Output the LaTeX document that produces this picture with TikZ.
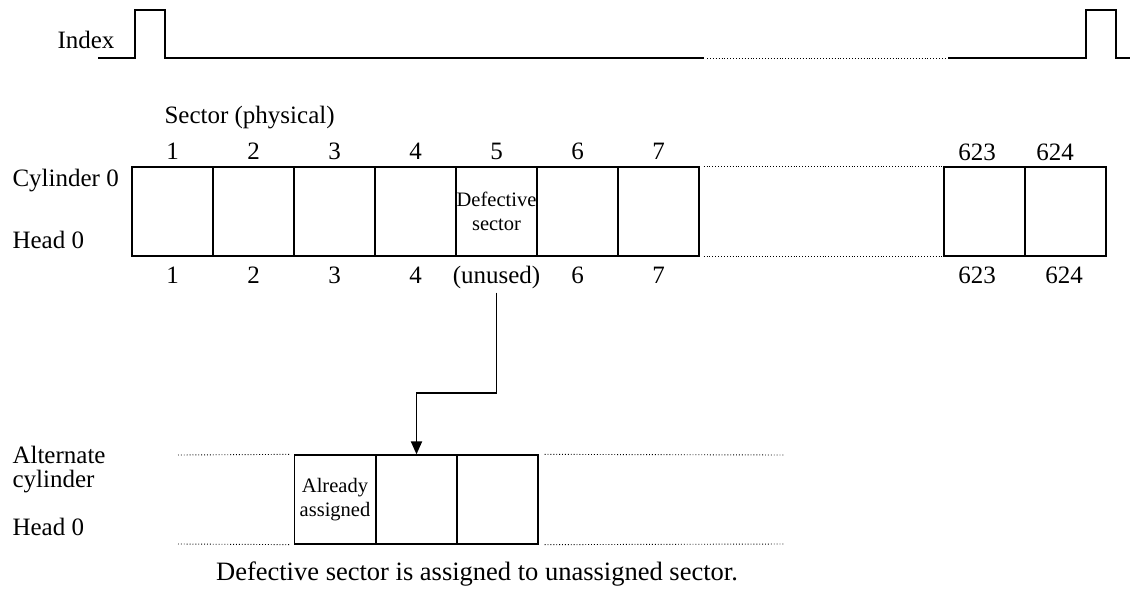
\documentclass[tikz,border=0pt]{standalone}
\usepackage{fontspec}
\setmainfont{Liberation Serif}
\usetikzlibrary{arrows.meta}

\begin{document}
\begin{tikzpicture}[
  x=1pt, y=-1pt,
  font=\fontsize{25}{24}\selectfont,
  sector/.style={draw, line width=1.3pt, minimum width=81pt, minimum height=89pt, inner sep=0pt, align=center, font=\fontsize{20.5}{23.5}\selectfont},
  lbl/.style={anchor=base},
  side/.style={anchor=base west},
  dotline/.style={line width=0.9pt, dotted},
  wave/.style={line width=1.4pt},
  arrow/.style={-{Triangle[length=13pt,width=11pt]}, line width=1.9pt}
]
\useasboundingbox (0,0) rectangle (1130,589);

% index pulses
\node[side] (index) at (54,48) {Index};
\draw[wave] (98,58) -- (135,58) -- (135,10) -- (165,10) -- (165,58) -- (704,58);
\draw[dotline] (707,58) -- (946,58);
\draw[wave] (948,58) -- (1086,58) -- (1086,10) -- (1116,10) -- (1116,58) -- (1130,58);

% cylinder 0 / head 0
\node[side] (phys) at (161,123) {Sector (physical)};
\node[side] (cyl) at (9,186) {Cylinder 0};
\node[side] (head) at (9,248) {Head 0};

\foreach \i in {1,2,3,4,6,7}
  \node[sector] (s\i) at ({132+81*\i-40.5},211.5) {};
\node[sector] (s5) at (496.5,211.5) {Defective\\sector};
\node[sector] (s623) at (984.5,211.5) {};
\node[sector] (s624) at (1065.5,211.5) {};

\foreach \i in {1,...,7}
  \node[lbl] (up\i) at ([yshift=7pt]s\i.north) {\i};
\foreach \i in {1,2,3,4,6,7}
  \node[lbl] (dn\i) at ([yshift=-27pt]s\i.south) {\i};
\node[lbl] (unused) at ([yshift=-27pt]s5.south) {(unused)};
\node[lbl] (up623) at (977,160) {623};
\node[lbl] (up624) at (1055,160) {624};
\node[lbl] (dn623) at (977,283) {623};
\node[lbl] (dn624) at (1064,283) {624};

\draw[dotline] ([xshift=4pt]s7.north east) -- (s623.north west);
\draw[dotline] ([xshift=4pt]s7.south east) -- (s623.south west);

% alternate cylinder
\node[side] (alt) at (9,463) {Alternate};
\node[side] (altb) at (9,487) {cylinder};
\node[side] (head2) at (9,535) {Head 0};

\node[sector] (a1) at (335,499.5) {Already\\assigned};
\node[sector] (a2) at (416.5,499.5) {};
\node[sector] (a3) at (497.5,499.5) {};

\coordinate (altLt) at (178,455);
\coordinate (altLb) at (178,544);
\coordinate (altRt) at (785,455);
\coordinate (altRb) at (785,544);
\draw[dotline] (altLt) -- ([xshift=-4pt]a1.north west);
\draw[dotline] (altLb) -- ([xshift=-4pt]a1.south west);
\draw[dotline] ([xshift=6pt]a3.north east) -- (altRt);
\draw[dotline] ([xshift=6pt]a3.south east) -- (altRb);

\coordinate (bend) at (496.5,393);
\draw[arrow] (unused.south) -- (bend) -| (a2.north);

\node[lbl, font=\fontsize{26.5}{28}\selectfont] (note) at (477,580) {Defective sector is assigned to unassigned sector.};

\end{tikzpicture}
\end{document}
